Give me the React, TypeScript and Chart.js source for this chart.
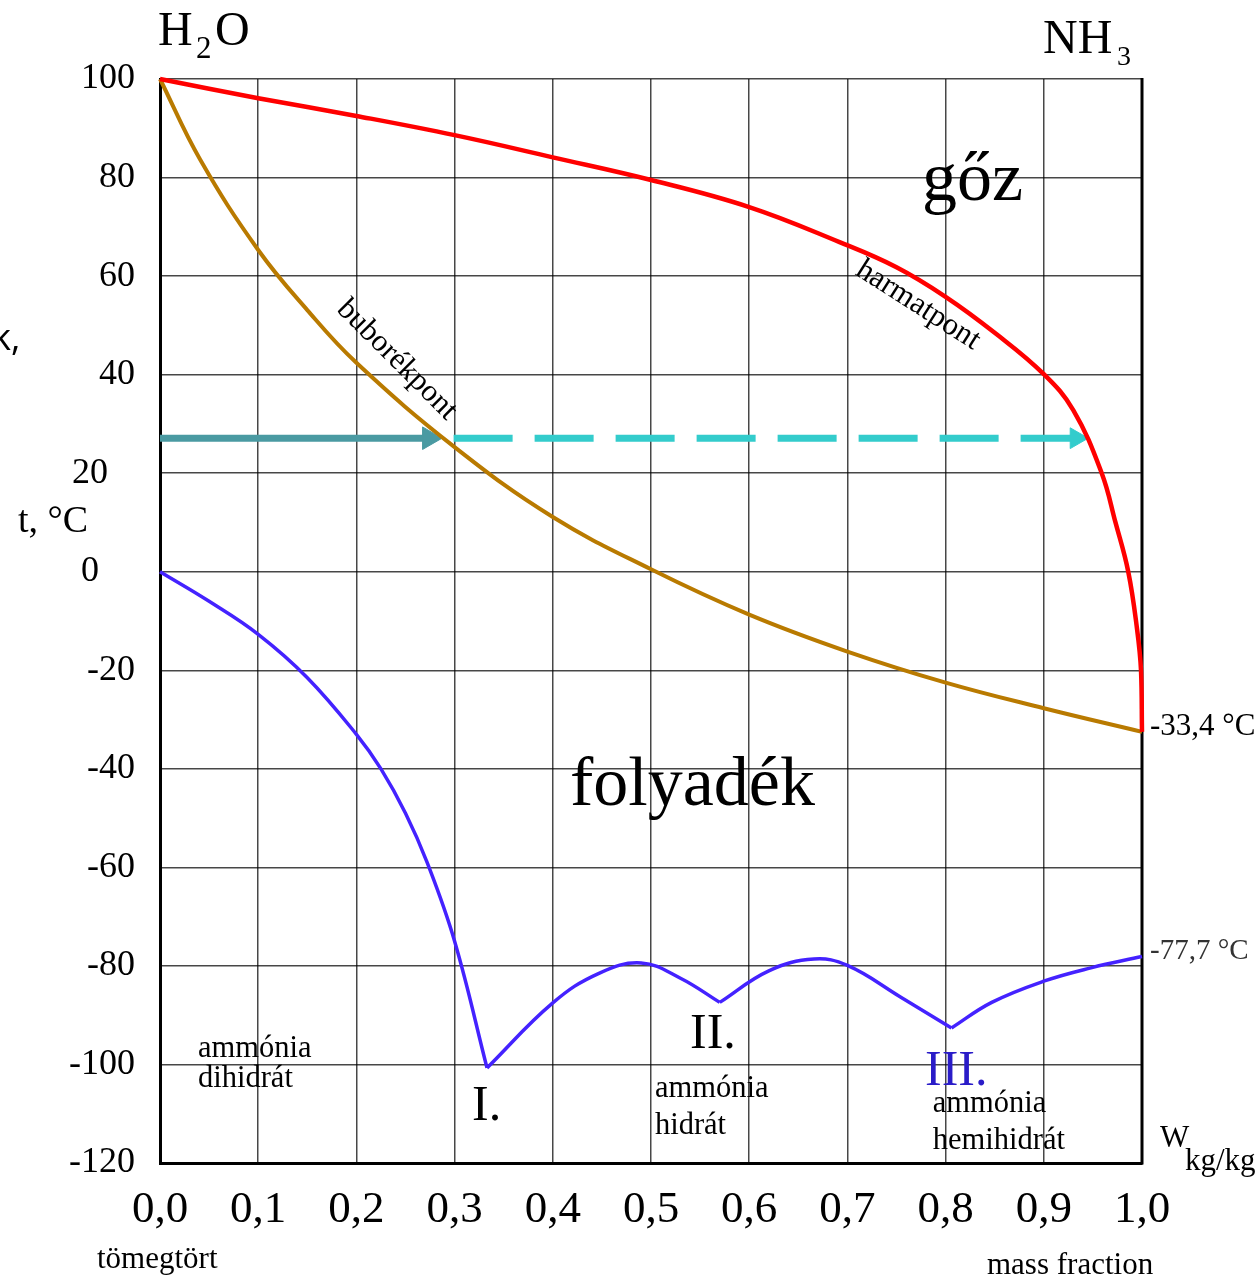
import React, { useEffect, useRef } from 'react';
import { Chart, registerables } from 'chart.js';

Chart.register(...registerables);

const SERIF = "'Liberation Serif', 'Times New Roman', 'DejaVu Serif', serif";
const SANS = "'Open Sans', 'Noto Sans', 'Liberation Sans', sans-serif";

// ---- tick labels ----
const xTickLabels = ['0,0', '0,1', '0,2', '0,3', '0,4', '0,5', '0,6', '0,7', '0,8', '0,9', '1,0'];
const yTickValues = [-120, -100, -80, -60, -40, -20, 0, 20, 40, 60, 80, 100];
const yTickLabels = ['-120', '-100', '-80', '-60', '-40', '-20', '0    ', '20   ', '40', '60', '80', '100'];

// ---- dew point curve (harmatpont) ----
const dewX = [0, 0.1, 0.2, 0.3, 0.4, 0.5, 0.6, 0.692, 0.75, 0.8, 0.85, 0.9, 0.93, 0.959, 0.973, 0.986, 0.995, 0.999, 1.0];
const dewT = [100, 96.1, 92.5, 88.6, 84.1, 79.5, 74, 66.9, 61.8, 55.8, 48.5, 40.1, 32.8, 20, 10, 0, -11.7, -20, -32.5];

// ---- bubble point curve (buborékpont) ----
const bubbleX = [0, 0.041, 0.1, 0.15, 0.2, 0.3, 0.4, 0.5, 0.6, 0.7, 0.8, 0.9, 1.0];
const bubbleT = [100, 83.6, 65.3, 53.1, 42.4, 25.3, 11.1, 0.5, -8.7, -16.2, -22.5, -27.7, -32.5];

// ---- freezing curve branches ----
const iceX = [0, 0.05, 0.1, 0.15, 0.2, 0.225, 0.25, 0.272, 0.3, 0.333];
const iceT = [0, -6, -12.7, -21.5, -33, -40, -49, -59, -75, -100.7];
const dihydrateX = [0.333, 0.4, 0.447, 0.49, 0.53, 0.57];
const dihydrateT = [-100.7, -87.5, -81.5, -79.4, -82.5, -87.4];
const hydrateX = [0.57, 0.62, 0.666, 0.7, 0.754, 0.806];
const hydrateT = [-87.4, -81, -78.6, -79.9, -86.3, -92.6];
const ammoniaX = [0.806, 0.847, 0.9, 0.948, 1.0];
const ammoniaT = [-92.6, -87.4, -83.1, -80.4, -78.1];

// ---- process arrows ----
const arrowT = [27.1, 27.1];
const solidArrowX = [0, 0.274];
const dashedArrowX = [0.299, 0.933];

const pts = (xs: number[], ts: number[]) => xs.map((x, i) => ({ x, y: ts[i] }));

// notes placed in data coordinates (inside the plot)
type Note = { text: string; x: number; t: number; size: number; color?: string; rot?: number; center?: boolean };
const dataNotes: Note[] = [
  { text: 'gőz', x: 0.776, t: 75.4, size: 70 },
  { text: 'folyadék', x: 0.4175, t: -47.4, size: 70 },
  { text: 'harmatpont', x: 0.772, t: 54.1, size: 31, rot: 32.6, center: true },
  { text: 'buborékpont', x: 0.2413, t: 43.0, size: 31, rot: 45, center: true },
  { text: 'ammónia', x: 0.0387, t: -98.5, size: 30.5 },
  { text: 'dihidrát', x: 0.0387, t: -104.6, size: 30.5 },
  { text: 'I.', x: 0.3177, t: -111.3, size: 50 },
  { text: 'II.', x: 0.5397, t: -96.7, size: 50 },
  { text: 'III.', x: 0.779, t: -104.2, size: 50, color: '#2a1cc8' },
  { text: 'ammónia', x: 0.504, t: -106.6, size: 30.5 },
  { text: 'hidrát', x: 0.504, t: -114.1, size: 30.5 },
  { text: 'ammónia', x: 0.787, t: -109.7, size: 30.5 },
  { text: 'hemihidrát', x: 0.787, t: -117.2, size: 30.5 },
];

// notes outside the plot (canvas pixels)
type Run = { text: string; px: number; py: number; size: number; color?: string; sans?: boolean };
const pageNotes: Run[] = [
  { text: 'H', px: 158, py: 45, size: 48 },
  { text: '2', px: 196, py: 58, size: 31 },
  { text: 'O', px: 215, py: 45, size: 48 },
  { text: 'NH', px: 1043, py: 53, size: 48 },
  { text: '3', px: 1117, py: 65, size: 28 },
  { text: 'k,', px: -8, py: 350, size: 36, sans: true },
  { text: 't, °C', px: 18, py: 532, size: 38 },
  { text: '-33,4 °C', px: 1150, py: 735, size: 31 },
  { text: '-77,7 °C', px: 1150, py: 959, size: 29, color: '#333' },
  { text: 'W', px: 1160, py: 1147, size: 31 },
  { text: 'kg/kg', px: 1185, py: 1170, size: 31 },
  { text: 'tömegtört', px: 97, py: 1268, size: 31 },
  { text: 'mass fraction', px: 987, py: 1274, size: 31 },
];

const notesPlugin = {
  id: 'notes',
  beforeDatasetsDraw(chart: any) {
    const { ctx, chartArea } = chart;
    ctx.save();
    ctx.strokeStyle = '#000';
    ctx.lineWidth = 3;
    ctx.beginPath();
    ctx.moveTo(chartArea.right, chartArea.top - 1);
    ctx.lineTo(chartArea.right, chartArea.bottom + 1.5);
    ctx.stroke();
    ctx.restore();
  },
  afterDraw(chart: any) {
    const { ctx } = chart;
    const xs = chart.scales.x;
    const ys = chart.scales.y;
    ctx.save();
    for (const n of dataNotes) {
      const px = xs.getPixelForValue(n.x);
      const py = ys.getPixelForValue(n.t);
      ctx.font = `${n.size}px ${SERIF}`;
      ctx.fillStyle = n.color || '#000';
      ctx.save();
      ctx.translate(px, py);
      if (n.rot) ctx.rotate((n.rot * Math.PI) / 180);
      ctx.textAlign = n.center ? 'center' : 'left';
      ctx.textBaseline = n.center ? 'middle' : 'alphabetic';
      ctx.fillText(n.text, 0, 0);
      ctx.restore();
    }
    ctx.textAlign = 'left';
    ctx.textBaseline = 'alphabetic';
    for (const r of pageNotes) {
      ctx.font = `${r.size}px ${r.sans ? SANS : SERIF}`;
      ctx.fillStyle = r.color || '#000';
      ctx.fillText(r.text, r.px, r.py);
    }
    ctx.restore();
  },
};

const curve = (data: any[], color: string, width: number, extra: any = {}) => ({
  data,
  borderColor: color,
  backgroundColor: color,
  borderWidth: width,
  pointRadius: 0,
  showLine: true,
  tension: 0.4,
  clip: false,
  ...extra,
});

const arrow = (data: any[], color: string, extra: any = {}) => ({
  data,
  borderColor: color,
  backgroundColor: color,
  borderWidth: 7,
  borderCapStyle: 'butt',
  showLine: true,
  clip: false,
  pointStyle: 'triangle',
  pointRotation: 90,
  pointBackgroundColor: color,
  pointBorderColor: color,
  pointBorderWidth: 1,
  pointRadius: (c: any) => (c.dataIndex === data.length - 1 ? 13 : 0),
  ...extra,
});

export default function App() {
  const ref = useRef<HTMLCanvasElement | null>(null);
  useEffect(() => {
    if (!ref.current) return;
    const gridStyle = { color: 'rgba(0,0,0,0.72)', lineWidth: 1.5, drawTicks: false };
    const chart = new Chart(ref.current, {
      type: 'scatter',
      data: {
        datasets: [
          curve(pts(dewX, dewT), '#ff0000', 4.5),
          curve(pts(bubbleX, bubbleT), '#b97a00', 4),
          curve(pts(iceX, iceT), '#4422ff', 3.5),
          curve(pts(dihydrateX, dihydrateT), '#4422ff', 3.5),
          curve(pts(hydrateX, hydrateT), '#4422ff', 3.5),
          curve(pts(ammoniaX, ammoniaT), '#4422ff', 3.5),
          arrow(pts(dashedArrowX, arrowT), '#33cccc', { borderDash: [59, 22], pointRadius: (c: any) => (c.dataIndex === 1 ? 12 : 0) }),
          arrow(pts(solidArrowX, arrowT), '#4a9aa2'),
        ] as any,
      },
      options: {
        animation: false,
        responsive: false,
        events: [],
        layout: { padding: { left: 0, top: 79, right: 117, bottom: 0 } },
        plugins: { legend: { display: false }, tooltip: { enabled: false } },
        scales: {
          x: {
            type: 'linear',
            min: 0,
            max: 1,
            afterFit: (s: any) => {
              s.height = 115;
            },
            ticks: {
              stepSize: 0.1,
              padding: 20,
              color: '#000',
              maxRotation: 0,
              autoSkip: false,
              font: { family: SERIF, size: 45 },
              callback: (_v: any, i: number) => xTickLabels[i],
            },
            grid: gridStyle,
            border: { color: '#000', width: 3 },
          },
          y: {
            type: 'linear',
            min: -120,
            max: 100,
            afterFit: (s: any) => {
              s.width = 160;
            },
            ticks: {
              stepSize: 20,
              padding: 25,
              color: '#000',
              font: { family: SERIF, size: 36 },
              callback: (v: any) => {
                const k = yTickValues.indexOf(Math.round(Number(v)));
                return k >= 0 ? yTickLabels[k] : '';
              },
            },
            grid: gridStyle,
            border: { color: '#000', width: 3 },
          },
        },
      } as any,
      plugins: [notesPlugin],
    });
    return () => chart.destroy();
  }, []);

  return (
    <div style={{ position: 'absolute', left: 0, top: 0, width: 1259, height: 1278, background: '#fff' }}>
      <canvas ref={ref} width={1259} height={1278} style={{ display: 'block' }} />
    </div>
  );
}
